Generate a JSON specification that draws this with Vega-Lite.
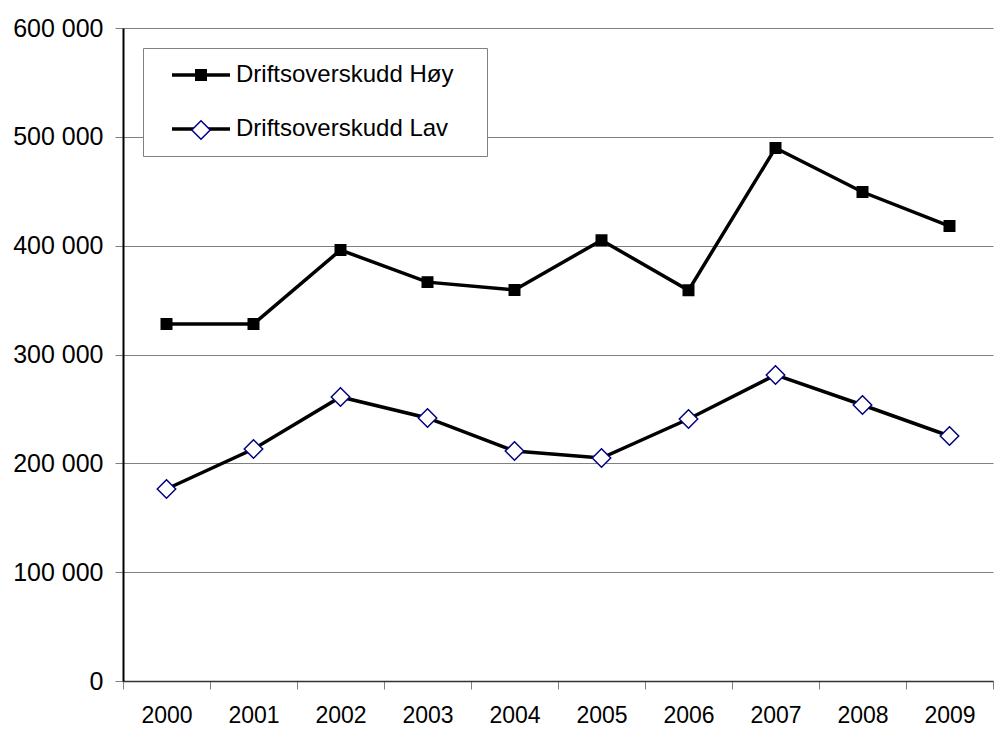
{
  "$schema": "https://vega.github.io/schema/vega-lite/v6.json",
  "width": 870,
  "height": 653,
  "autosize": {"type": "none"},
  "padding": {"left": 123, "top": 28, "right": 2, "bottom": 48},
  "background": "white",
  "config": {
    "font": "Liberation Sans",
    "view": {"stroke": null}
  },
  "data": {
    "values": [
      {"year": "2000", "series": "Driftsoverskudd Høy", "value": 328000},
      {"year": "2001", "series": "Driftsoverskudd Høy", "value": 328000},
      {"year": "2002", "series": "Driftsoverskudd Høy", "value": 396000},
      {"year": "2003", "series": "Driftsoverskudd Høy", "value": 366500},
      {"year": "2004", "series": "Driftsoverskudd Høy", "value": 359300},
      {"year": "2005", "series": "Driftsoverskudd Høy", "value": 405000},
      {"year": "2006", "series": "Driftsoverskudd Høy", "value": 359000},
      {"year": "2007", "series": "Driftsoverskudd Høy", "value": 489800},
      {"year": "2008", "series": "Driftsoverskudd Høy", "value": 449300},
      {"year": "2009", "series": "Driftsoverskudd Høy", "value": 418000},
      {"year": "2000", "series": "Driftsoverskudd Lav", "value": 176400},
      {"year": "2001", "series": "Driftsoverskudd Lav", "value": 213200},
      {"year": "2002", "series": "Driftsoverskudd Lav", "value": 261000},
      {"year": "2003", "series": "Driftsoverskudd Lav", "value": 241700},
      {"year": "2004", "series": "Driftsoverskudd Lav", "value": 211300},
      {"year": "2005", "series": "Driftsoverskudd Lav", "value": 204900},
      {"year": "2006", "series": "Driftsoverskudd Lav", "value": 240700},
      {"year": "2007", "series": "Driftsoverskudd Lav", "value": 281200},
      {"year": "2008", "series": "Driftsoverskudd Lav", "value": 253600},
      {"year": "2009", "series": "Driftsoverskudd Lav", "value": 225100}
    ]
  },
  "encoding": {
    "x": {
      "field": "year",
      "type": "ordinal",
      "scale": {"type": "band", "paddingInner": 0, "paddingOuter": 0},
      "axis": {
        "title": null,
        "labelAngle": 0,
        "labelFontSize": 23,
        "labelColor": "black",
        "labelPadding": 15,
        "tickBand": "extent",
        "tickSize": 8,
        "tickColor": "#808080",
        "tickWidth": 1,
        "domainColor": "#333333",
        "domainWidth": 1.5,
        "grid": false
      }
    },
    "y": {
      "field": "value",
      "type": "quantitative",
      "scale": {"domain": [0, 600000], "nice": false},
      "axis": {
        "title": null,
        "values": [0, 100000, 200000, 300000, 400000, 500000, 600000],
        "labelExpr": "replace(format(datum.value, ','), /,/g, ' ')",
        "labelFontSize": 25,
        "labelColor": "black",
        "labelPadding": 12,
        "tickSize": 8,
        "tickColor": "#808080",
        "domainColor": "black",
        "domainWidth": 2,
        "grid": true,
        "gridColor": "#808080",
        "gridWidth": 1
      }
    }
  },
  "layer": [
    {
      "mark": {"type": "line", "strokeWidth": 3.5},
      "encoding": {
        "color": {
          "field": "series",
          "type": "nominal",
          "scale": {"range": ["black", "black"]},
          "legend": {
            "title": " ",
            "titleOrient": "right",
            "titlePadding": 19,
            "titleFontSize": 10,
            "orient": "top-left",
            "offset": 20,
            "fillColor": "white",
            "strokeColor": "#808080",
            "padding": 15,
            "symbolOffset": 31,
            "symbolType": "M-3,0H3",
            "symbolSize": 374,
            "symbolStrokeWidth": 3.5,
            "labelFontSize": 24,
            "labelLimit": 400,
            "labelColor": "black",
            "labelOffset": 23,
            "rowPadding": 30
          }
        }
      }
    },
    {
      "mark": {"type": "point", "filled": true, "strokeWidth": 1.5, "opacity": 1},
      "encoding": {
        "shape": {
          "field": "series",
          "type": "nominal",
          "scale": {"domain": ["Driftsoverskudd Høy", "Driftsoverskudd Lav"], "range": ["square", "diamond"]},
          "legend": {
            "title": null,
            "orient": "none",
            "legendX": 66,
            "legendY": 35,
            "padding": 0,
            "labelExpr": "''",
            "labelFontSize": 24,
            "labelOffset": 0,
            "rowPadding": 30
          }
        },
        "size": {
          "field": "series",
          "type": "nominal",
          "scale": {"domain": ["Driftsoverskudd Høy", "Driftsoverskudd Lav"], "range": [110, 340]}
        },
        "fill": {
          "field": "series",
          "type": "nominal",
          "scale": {"domain": ["Driftsoverskudd Høy", "Driftsoverskudd Lav"], "range": ["black", "white"]}
        },
        "stroke": {
          "field": "series",
          "type": "nominal",
          "scale": {"domain": ["Driftsoverskudd Høy", "Driftsoverskudd Lav"], "range": ["black", "#000080"]}
        }
      }
    }
  ]
}
